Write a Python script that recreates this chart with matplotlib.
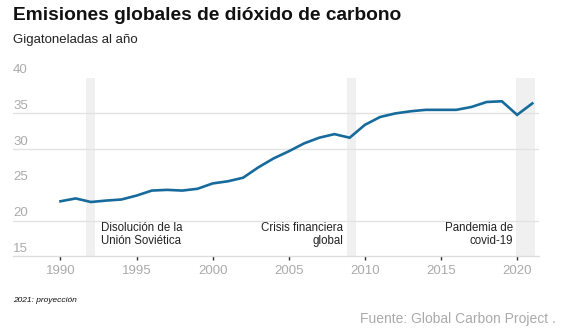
import matplotlib.pyplot as plt
import numpy as np

plt.rcParams['font.family'] = ['Liberation Sans', 'DejaVu Sans']

# Datos
anios = np.arange(1990, 2022)
emisiones = [22.7, 23.1, 22.6, 22.8, 22.95, 23.5, 24.2, 24.3, 24.2, 24.45,
             25.2, 25.5, 26.0, 27.45, 28.7, 29.7, 30.8, 31.6, 32.1, 31.6,
             33.4, 34.5, 35.0, 35.3, 35.5, 35.5, 35.5, 35.9, 36.6, 36.7,
             34.8, 36.4]

bandas = [(1991.67, 1992.26), (2008.83, 2009.4), (2019.93, 2021.2)]
eventos = ["Disolución de la\nUnión Soviética", "Crisis financiera\nglobal", "Pandemia de\ncovid-19"]
eventos_x = [1992.64, 2008.58, 2019.74]
eventos_ha = ['left', 'right', 'right']

y_ticks = [15, 20, 25, 30, 35, 40]
grid_y = [20, 30, 35]
x_ticks = [1990, 1995, 2000, 2005, 2010, 2015, 2020]

fig = plt.figure(figsize=(5.74, 3.33), dpi=100)
ax = fig.add_axes([13/574, 1 - 256.3/333, (539 - 13)/574, (256.3 - 77.7)/333])

x0, x1 = 1986.88, 2021.44
ax.set_xlim(x0, x1)
ax.set_ylim(15, 40)

for a, b in bandas:
    ax.axvspan(a, b, color='#f0f0f0', lw=0, zorder=0)

for g in grid_y:
    ax.axhline(g, color='#e2e2e2', lw=1, zorder=1)

ax.plot(anios, emisiones, color='#176b9c', lw=1.9, zorder=3, solid_joinstyle='miter')

for v in y_ticks:
    ax.annotate(str(v), xy=(x0, v), xytext=(0, 1), textcoords='offset points',
                ha='left', va='bottom', fontsize=9.5, color='#aaaaaa', annotation_clip=False)

for t, x, ha in zip(eventos, eventos_x, eventos_ha):
    ax.text(x, 19.75, t, ha=ha, va='top', fontsize=8.3, color='#222222', linespacing=1.1)

for s in ['top', 'right', 'left']:
    ax.spines[s].set_visible(False)
ax.spines['bottom'].set_color('#dddddd')
ax.spines['bottom'].set_linewidth(1)
ax.set_yticks([])
ax.set_xticks(x_ticks)
ax.set_xticklabels([str(x) for x in x_ticks], fontsize=9.5, color='#aaaaaa')
ax.tick_params(axis='x', length=3, width=1, color='#333333', pad=3)

fig.text(13/574, 1 - 15/333, "Emisiones globales de dióxido de carbono", fontsize=13.8,
         fontweight='bold', color='#111111', ha='left', va='center')
fig.text(13/574, 1 - 40/333, "Gigatoneladas al año", fontsize=9.5, color='#222222',
         ha='left', va='center')
fig.text(13/574, 1 - 300/333, "2021: proyección", fontsize=6, style='italic', color='#111111',
         ha='left', va='center')
fig.text(556/574, 1 - 319/333, "Fuente: Global Carbon Project .", fontsize=10, color='#aaaaaa',
         ha='right', va='center')

fig.savefig('out.png', dpi=100)
